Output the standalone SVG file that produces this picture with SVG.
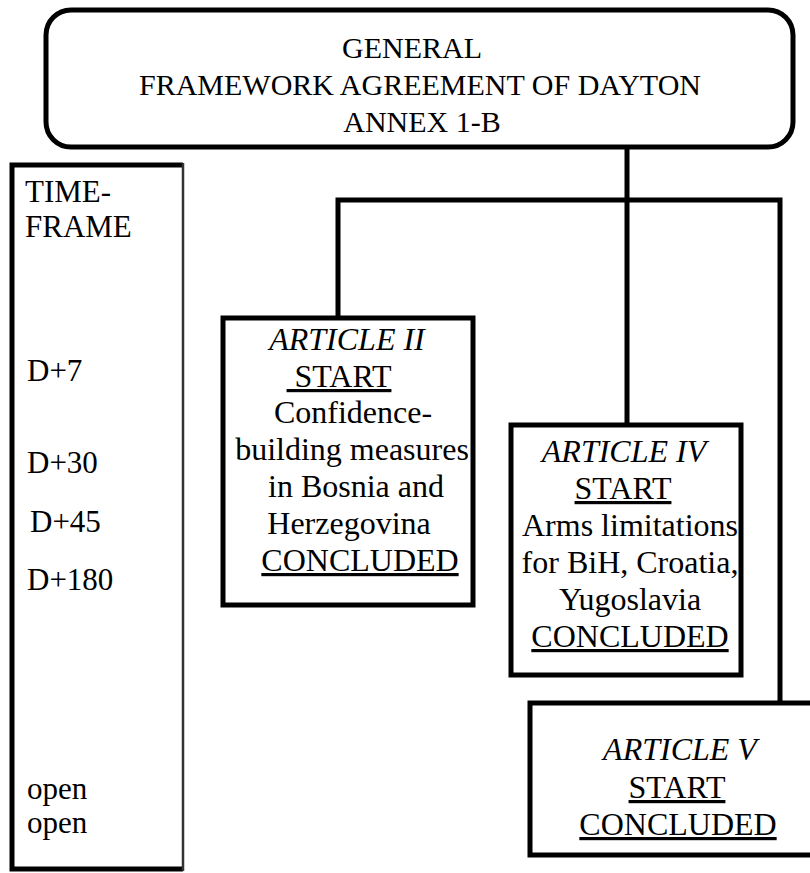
<svg xmlns="http://www.w3.org/2000/svg" width="810" height="873" viewBox="0 0 810 873" font-family="'Liberation Serif', 'Times New Roman', 'DejaVu Serif', serif">
<style>
.box{fill:#fff;stroke:#000;stroke-width:5}
.conn{fill:none;stroke:#000;stroke-width:5}
text{font-family:'Liberation Serif','Times New Roman','DejaVu Serif',serif;font-size:32px;fill:#000}
.c{text-anchor:middle}
.i{font-style:italic}
.u{text-decoration:underline}
.top{font-size:30px}
.tf{font-size:31px}
</style>
<rect width="810" height="873" fill="#fff"/>
<g id="connectors">
<line class="conn" x1="627" y1="147" x2="627" y2="425"/>
<polyline class="conn" points="338,318 338,200 780,200 780,712"/>
</g>
<g id="dayton">
<rect class="box" x="46" y="10" width="747" height="137" rx="25"/>
<text class="c top" x="412" y="58">GENERAL</text>
<text class="c top" x="420" y="95">FRAMEWORK AGREEMENT OF DAYTON</text>
<text class="c top" x="422" y="132">ANNEX 1-B</text>
</g>
<g id="timeframe">
<rect x="12" y="165" width="171" height="704" fill="#fff" stroke="none"/>
<path d="M183,165 H12 V869 H183" fill="none" stroke="#000" stroke-width="5"/>
<line x1="183" y1="163" x2="183" y2="871" stroke="#333" stroke-width="2.5"/>
<text class="tf" x="25" y="202">TIME-</text>
<text class="tf" x="25" y="237">FRAME</text>
<text class="tf" x="27" y="381">D+7</text>
<text class="tf" x="27" y="473">D+30</text>
<text class="tf" x="30" y="532">D+45</text>
<text class="tf" x="27" y="590">D+180</text>
<text class="tf" x="27" y="799">open</text>
<text class="tf" x="27" y="833">open</text>
</g>
<g id="article2">
<rect class="box" x="223" y="318" width="250" height="287"/>
<text class="c i" x="347" y="350">ARTICLE II</text>
<text class="c" x="339" y="387"><tspan class="u">&#160;START</tspan></text>
<text class="c" x="353" y="423">Confidence-</text>
<text class="c" x="352" y="460">building measures</text>
<text class="c" x="356" y="497">in Bosnia and</text>
<text class="c" x="349" y="534">Herzegovina</text>
<text class="c" x="360" y="571"><tspan class="u">CONCLUDED</tspan></text>
</g>
<g id="article4">
<rect class="box" x="511" y="425" width="230" height="250"/>
<text class="c i" x="624" y="462">ARTICLE IV</text>
<text class="c" x="623" y="499"><tspan class="u">START</tspan></text>
<text class="c" x="630" y="536">Arms limitations</text>
<text class="c" x="630" y="573">for BiH, Croatia,</text>
<text class="c" x="630" y="610">Yugoslavia</text>
<text class="c" x="630" y="647"><tspan class="u">CONCLUDED</tspan></text>
</g>
<g id="article5">
<rect class="box" x="530" y="703" width="285" height="152"/>
<text class="c i" x="680" y="760">ARTICLE V</text>
<text class="c" x="677" y="798"><tspan class="u">START</tspan></text>
<text class="c" x="678" y="835"><tspan class="u">CONCLUDED</tspan></text>
</g>
</svg>
